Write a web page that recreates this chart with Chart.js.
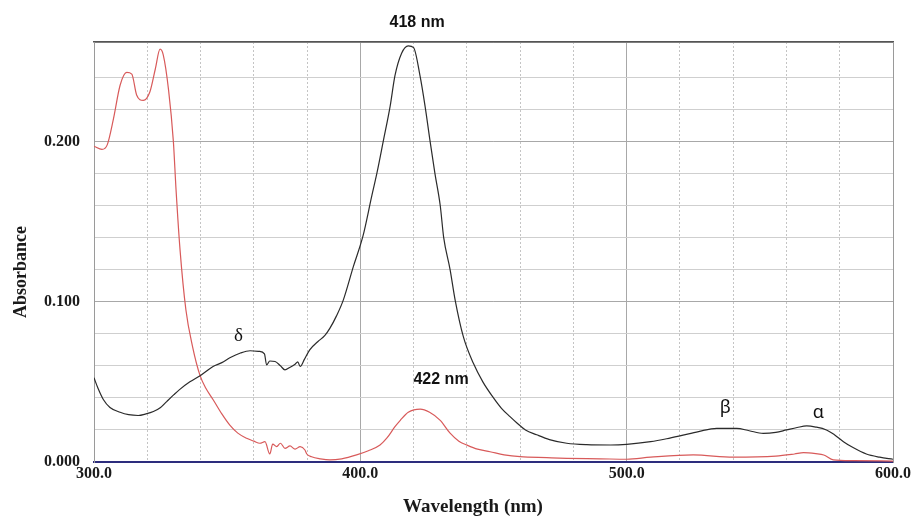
<!DOCTYPE html>
<html>
<head>
<meta charset="utf-8">
<script src="https://cdn.jsdelivr.net/npm/chart.js@4.4.1/dist/chart.umd.min.js"></script>
<style>
  html, body { margin: 0; padding: 0; background: #fff; }
</style>
</head>
<body>
<canvas id="spectrum" width="924" height="520"></canvas>
<script>
// spectra (wavelength in nm, absorbance)
let blackWl = [300, 301.5, 303.5, 306, 309.8, 313, 316.6, 319.5, 322.3, 325,
    327.3, 330, 332, 336, 340, 344.7, 348, 351, 355, 358.6,
    362, 364, 364.8, 366, 368, 370, 371.7, 373.5, 375.5, 376.5,
    377.4, 379, 381, 384, 386.7, 388.6, 391, 393.6, 397.4, 401,
    404.3, 406.2, 408.6, 411.2, 413, 415.5, 418, 420, 422.4, 424.3,
    426.2, 428, 430, 431.3, 433.7, 435.6, 438.7, 442.4, 446, 450,
    453, 456.2, 458.7, 462, 466.2, 471, 477.5, 485, 494, 500,
    509, 515, 520, 527, 533.8, 541.3, 546, 551.3, 556, 560,
    564, 567.6, 571, 575, 578, 581.4, 585, 590, 595, 600];
let blackAbs = [0.0525, 0.046, 0.039, 0.034, 0.031, 0.0295, 0.029, 0.030, 0.0315, 0.034,
    0.0377, 0.042, 0.045, 0.050, 0.054, 0.0596, 0.062, 0.065, 0.068, 0.0694,
    0.069, 0.0675, 0.0606, 0.063, 0.0627, 0.060, 0.0575, 0.059, 0.061, 0.0625,
    0.0596, 0.064, 0.070, 0.075, 0.079, 0.0835, 0.091, 0.101, 0.122, 0.141,
    0.166, 0.180, 0.200, 0.222, 0.241, 0.255, 0.2596, 0.2585, 0.241, 0.222,
    0.200, 0.180, 0.160, 0.140, 0.120, 0.101, 0.078, 0.0617, 0.050, 0.040,
    0.0335, 0.0283, 0.0245, 0.020, 0.017, 0.014, 0.0117, 0.0108, 0.0106, 0.011,
    0.0127, 0.0145, 0.0163, 0.019, 0.021, 0.021, 0.0195, 0.0179, 0.0185, 0.020,
    0.0215, 0.0225, 0.0218, 0.020, 0.017, 0.0127, 0.009, 0.005, 0.003, 0.0017];

let redWl = [300, 303, 305, 307.3, 309.8, 312.3, 314.2, 316, 318.5, 321,
    323, 324.8, 326, 328, 329.8, 330.8, 332.3, 334.5, 337, 339.8,
    342, 344.8, 348, 351, 354, 357.3, 360, 362.3, 364.2, 366,
    367.1, 368.6, 370, 371.7, 373.6, 375.5, 377.4, 379.2, 379.9, 381.7,
    385, 388.6, 393, 398.6, 403, 407.4, 410, 413, 415, 418,
    422.5, 426, 430, 433.7, 437, 440, 444, 448.7, 454, 460,
    470, 477.5, 490, 500, 509, 525, 540, 556, 563, 566.4,
    571, 574, 577.6, 585, 600];
let redAbs = [0.197, 0.195, 0.198, 0.214, 0.235, 0.243, 0.242, 0.229, 0.2256, 0.231,
    0.245, 0.2575, 0.254, 0.232, 0.200, 0.170, 0.1325, 0.095, 0.072, 0.054,
    0.046, 0.0387, 0.030, 0.023, 0.018, 0.0148, 0.013, 0.0117, 0.0127, 0.005,
    0.0112, 0.0096, 0.0117, 0.0085, 0.010, 0.008, 0.0096, 0.0075, 0.005, 0.0033,
    0.002, 0.0013, 0.002, 0.0044, 0.007, 0.0106, 0.015, 0.022, 0.026, 0.031,
    0.033, 0.031, 0.026, 0.018, 0.013, 0.0106, 0.008, 0.0064, 0.0045, 0.0033,
    0.0027, 0.0023, 0.002, 0.0017, 0.003, 0.0044, 0.003, 0.0037, 0.005, 0.0058,
    0.0052, 0.0044, 0.0013, 0.0008, 0.0006];

let xTickLabels = [300, 400, 500, 600];
let yTickLabels = [0, 0.1, 0.2];

// peak annotations, placed in data units
let noteText = ["418 nm", "422 nm", "δ", "β", "α"];
let noteWl = [421.3, 430.3, 354.2, 537, 572];
let noteAbs = [0.2738, 0.0513, 0.0783, 0.0336, 0.0304];

const ctx = document.getElementById('spectrum').getContext('2d');

function toPoints(xs, ys) {
    return xs.map(function (x, i) { return {x: x, y: ys[i]}; });
}

function isIn(list, v) {
    return list.some(function (t) { return Math.abs(t - v) < 1e-9; });
}

const tickFont = {family: "'Liberation Serif', serif", size: 16, weight: 'bold'};

// draws the peak labels and the two axis titles
const labelPlugin = {
    id: 'spectrumLabels',
    afterDatasetsDraw(chart) {
        const c = chart.ctx;
        const x = chart.scales.x;
        const y = chart.scales.y;
        c.save();
        c.fillStyle = '#111';
        c.textAlign = 'center';
        c.textBaseline = 'middle';
        noteText.forEach(function (t, i) {
            if (t.indexOf('nm') > 0) c.font = "bold 16px 'Liberation Sans', sans-serif";
            else if (t === 'δ') c.font = "19px 'Liberation Serif', serif";
            else c.font = "18px 'Noto Sans', sans-serif";
            c.fillText(t, x.getPixelForValue(noteWl[i]), y.getPixelForValue(noteAbs[i]));
        });
        c.fillStyle = '#1a1a1a';
        c.font = "bold 19px 'Liberation Serif', serif";
        c.fillText('Wavelength (nm)', 473, 507);
        c.translate(21, 272);
        c.rotate(-Math.PI / 2);
        c.font = "bold 18px 'Liberation Serif', serif";
        c.fillText('Absorbance', 0, 0);
        c.restore();
    }
};

let chart = new Chart(ctx, {
    type: 'line',
    data: {
        datasets: [
            {
                data: toPoints(blackWl, blackAbs),
                borderColor: '#2b2b2b',
                borderWidth: 1.2,
                pointRadius: 0,
                cubicInterpolationMode: 'monotone'
            },
            {
                data: toPoints(redWl, redAbs),
                borderColor: '#d85a5a',
                borderWidth: 1.2,
                pointRadius: 0,
                cubicInterpolationMode: 'monotone'
            }
        ]
    },
    options: {
        responsive: false,
        animation: false,
        layout: {padding: {top: 42, right: 31, left: 0, bottom: 0}},
        plugins: {
            legend: {display: false},
            tooltip: {enabled: false}
        },
        scales: {
            x: {
                type: 'linear', min: 300, max: 600, position: 'bottom',
                ticks: {
                    stepSize: 20, autoSkip: false, maxRotation: 0, padding: 2,
                    color: '#1a1a1a', font: tickFont,
                    callback: function (v) { return isIn(xTickLabels, v) ? v.toFixed(1) : ''; }
                },
                grid: {color: '#c4c4c4', drawTicks: false},
                border: {color: '#2d2d7d', width: 2, dash: [2, 2]},
                afterFit: function (s) { s.height = 58; }
            },
            xMajor: {
                type: 'linear', min: 300, max: 600, position: 'top',
                ticks: {display: false, stepSize: 100},
                grid: {color: '#a8a8a8', drawTicks: false},
                border: {color: '#555555', width: 1.5},
                afterFit: function (s) { s.height = 0; }
            },
            y: {
                type: 'linear', min: 0, max: 0.262, position: 'left',
                ticks: {
                    stepSize: 0.02, autoSkip: false, padding: 14,
                    color: '#1a1a1a', font: tickFont,
                    callback: function (v) { return isIn(yTickLabels, v) ? v.toFixed(3) : ''; }
                },
                grid: {color: '#cfcfcf', drawTicks: false},
                border: {color: '#9a9a9a', width: 1},
                afterFit: function (s) { s.width = 94; }
            },
            yMajor: {
                type: 'linear', min: 0, max: 0.262, position: 'right',
                ticks: {display: false, stepSize: 0.1},
                grid: {color: '#a8a8a8', drawTicks: false},
                border: {color: '#9a9a9a', width: 1},
                afterFit: function (s) { s.width = 0; }
            }
        }
    },
    plugins: [labelPlugin]
});
</script>
</body>
</html>
